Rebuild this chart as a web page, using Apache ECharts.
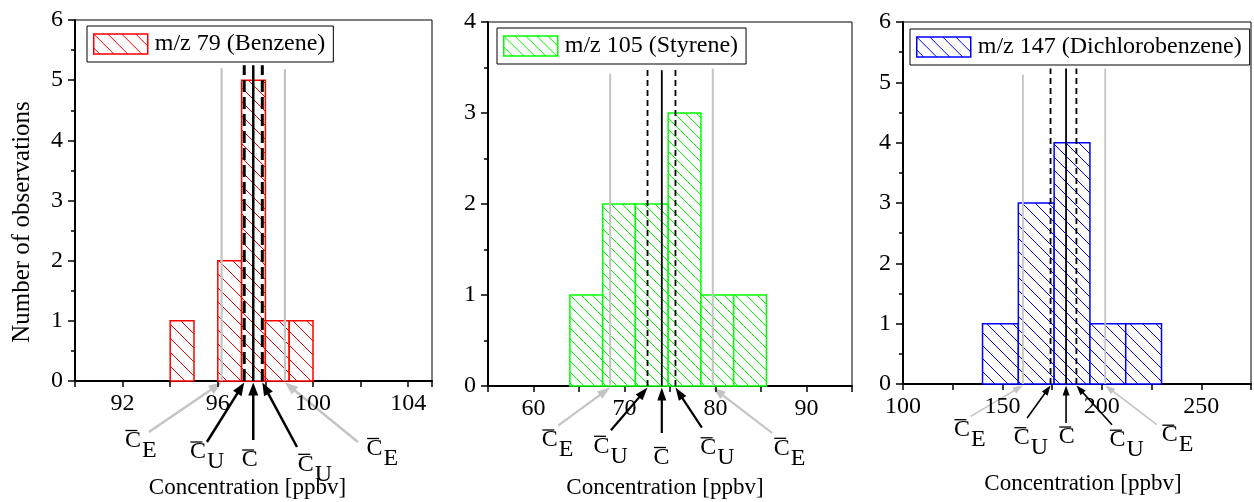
<!DOCTYPE html>
<html>
<head>
<meta charset="utf-8">
<title>Concentration histograms</title>
<script src="https://cdn.jsdelivr.net/npm/echarts@6/dist/echarts.min.js"></script>
<style>
  html, body { margin: 0; padding: 0; background: #fff; }
  #chart { width: 1254px; height: 502px; }
</style>
</head>
<body>
<div id="chart"></div>
<script>
// ---- data ----
// bin edges [ppbv] and counts of observations per bin
const benzeneEdges = [94, 95, 96, 97, 98, 99, 100];
const benzeneCounts = [1, 0, 2, 5, 1, 1];
// reference lines: C_E low, C_U low, mean, C_U high, C_E high
const benzeneMarks = [96.16, 97.11, 97.49, 97.87, 98.82];
const benzeneMarkTops = [5.2, 5.25, 5.25, 5.25, 5.18];
const benzeneTicks = [92, 96, 100, 104];

const styreneEdges = [64, 67.6, 71.2, 74.8, 78.4, 82, 85.6];
const styreneCounts = [1, 2, 2, 3, 1, 1];
const styreneMarks = [68.42, 72.53, 74.1, 75.6, 79.7];
const styreneMarkTops = [3.43, 3.51, 3.47, 3.51, 3.49];
const styreneTicks = [60, 70, 80, 90];

const dcbEdges = [140, 158, 176, 194, 212, 230];
const dcbCounts = [1, 3, 4, 1, 1];
const dcbMarks = [160.3, 174.2, 182, 187.2, 201.7];
const dcbMarkTops = [5.13, 5.23, 5.23, 5.23, 5.23];
const dcbTicks = [100, 150, 200, 250];

const markSubscripts = ['E', 'U', '', 'U', 'E'];
const seriesNames = ['m/z 79 (Benzene)', 'm/z 105 (Styrene)', 'm/z 147 (Dichlorobenzene)'];

// ---- layout and styles ----
const FONT = '"Liberation Serif", "Times New Roman", Times, serif';
const GRAY = '#c4c4c4';

const panels = [
  {
    edges: benzeneEdges, counts: benzeneCounts, marks: benzeneMarks, tops: benzeneMarkTops,
    ticks: benzeneTicks, xMin: 90, xMax: 105, xStep: 2, yMax: 6,
    grid: { left: 75, top: 20, width: 357, height: 361 },
    color: '#ff0000', hatchStep: 14,
    legendPos: { left: 87, top: 26 },
    dashWidth: 3, dash: [12, 5], solidWidth: 2.5, grayWidth: 2.2,
    arrowWidth: 2.5, headLen: 13, headHalf: 5,
    // per mark: arrow tail offset and label (left of C, cap centre) offset, relative to the tip
    callouts: [[-72.7, 51, -96.7, 59.5], [-37.3, 61, -54.3, 71], [0, 59, -11.6, 79],
               [34.7, 66, 35.4, 83.3], [73, 61, 81.7, 67.5]],
    xName: [247.5, 487.5]
  },
  {
    edges: styreneEdges, counts: styreneCounts, marks: styreneMarks, tops: styreneMarkTops,
    ticks: styreneTicks, xMin: 55, xMax: 95, xStep: 5, yMax: 4,
    grid: { left: 488, top: 22, width: 364, height: 364 },
    color: '#00ff00', hatchStep: 11,
    legendPos: { left: 497, top: 28 },
    dashWidth: 1.8, dash: [6, 4], solidWidth: 1.8, grayWidth: 2,
    arrowWidth: 2.2, headLen: 13, headHalf: 4.5,
    callouts: [[-51.7, 39.3, -68.3, 54], [-36.6, 44.3, -54, 60.3], [0, 47, -8.4, 71.5],
               [26.4, 41.6, 24.7, 61.8], [59.4, 47, 61, 62.3]],
    xName: [665, 487.5]
  },
  {
    edges: dcbEdges, counts: dcbCounts, marks: dcbMarks, tops: dcbMarkTops,
    ticks: dcbTicks, xMin: 100, xMax: 275, xStep: 25, yMax: 6,
    grid: { left: 903, top: 22, width: 350, height: 362 },
    color: '#0000ff', hatchStep: 13,
    legendPos: { left: 910, top: 29 },
    dashWidth: 1.8, dash: [6, 4], solidWidth: 1.8, grayWidth: 1.8,
    arrowWidth: 1.6, headLen: 10, headHalf: 3.5,
    callouts: [[-52.3, 32.4, -69, 45.7], [-23.4, 34, -36.7, 53.7], [0, 39, -7.3, 53],
               [35.6, 40.7, 33, 56.2], [51.6, 40.7, 56.6, 51.2]],
    xName: [1083, 484.2]
  }
];

// diagonal hatch tile ("\\\" direction) used as bar fill
function hatchTile(color, step) {
  const c = document.createElement('canvas');
  c.width = step; c.height = step;
  const g = c.getContext('2d');
  g.fillStyle = '#ffffff';
  g.fillRect(0, 0, step, step);
  g.strokeStyle = color;
  g.lineWidth = 1;
  for (const k of [-1, 0, 1]) {
    g.beginPath();
    g.moveTo(k * step - 1, -1);
    g.lineTo(k * step + step + 1, step + 1);
    g.stroke();
  }
  return { image: c, repeat: 'repeat' };
}

const chart = echarts.init(document.getElementById('chart'), null, { renderer: 'canvas' });

const grids = [], xAxes = [], yAxes = [], series = [], legends = [];

panels.forEach((p, i) => {
  const pattern = hatchTile(p.color, p.hatchStep);
  grids.push(Object.assign({ show: true, borderColor: '#000', borderWidth: 1, containLabel: false }, p.grid));

  xAxes.push({
    type: 'value', gridIndex: i, min: p.xMin, max: p.xMax, interval: p.xStep,
    axisLine: { onZero: false, lineStyle: { color: '#000', width: 2 } },
    axisTick: { show: true, length: 6, lineStyle: { color: '#000', width: 1.5 } },
    splitLine: { show: false },
    axisLabel: {
      show: true, margin: 11, color: '#000', fontFamily: FONT, fontSize: 24,
      showMinLabel: true, showMaxLabel: true,
      formatter: v => (p.ticks.indexOf(v) >= 0 ? String(v) : '')
    }
  });

  yAxes.push({
    type: 'value', gridIndex: i, min: 0, max: p.yMax, interval: 1,
    axisLine: { show: true, lineStyle: { color: '#000', width: 2 } },
    axisTick: { show: true, length: 7, lineStyle: { color: '#000', width: 1.5 } },
    minorTick: { show: true, splitNumber: 2, length: 4, lineStyle: { color: '#000', width: 1.5 } },
    splitLine: { show: false },
    axisLabel: { margin: 12, color: '#000', fontFamily: FONT, fontSize: 24 }
  });

  // histogram bars: [lower edge, upper edge, count]
  const bins = p.counts.map((n, k) => [p.edges[k], p.edges[k + 1], n]);
  series.push({
    type: 'custom', name: seriesNames[i], xAxisIndex: i, yAxisIndex: i,
    data: bins, encode: { x: [0, 1], y: 2 }, z: 2,
    itemStyle: { color: pattern, borderColor: p.color, borderWidth: 1.5 },
    renderItem: (params, api) => {
      const n = api.value(2);
      if (!n) return null;
      const a = api.coord([api.value(0), n]);
      const b = api.coord([api.value(1), 0]);
      return {
        type: 'rect',
        shape: { x: a[0], y: a[1], width: b[0] - a[0], height: b[1] - a[1] },
        style: { fill: pattern, stroke: p.color, lineWidth: 1.5 }
      };
    }
  });

  // vertical reference lines
  p.marks.forEach((m, k) => {
    const sub = markSubscripts[k];
    let lineStyle;
    if (sub === 'E') lineStyle = { color: GRAY, width: p.grayWidth, type: 'solid' };
    else if (sub === 'U') lineStyle = { color: '#000', width: p.dashWidth, type: p.dash };
    else lineStyle = { color: '#000', width: p.solidWidth, type: 'solid' };
    series.push({
      type: 'line', xAxisIndex: i, yAxisIndex: i, z: 3,
      data: [[m, 0], [m, p.tops[k]]],
      symbol: 'none', silent: true, animation: false,
      lineStyle: lineStyle
    });
  });

  legends.push({
    left: p.legendPos.left, top: p.legendPos.top, orient: 'vertical',
    selectedMode: false, itemWidth: 54, itemHeight: 20,
    padding: [6, 8, 6, 6], borderColor: '#000', borderWidth: 1, backgroundColor: '#fff',
    textStyle: { fontFamily: FONT, fontSize: 24, color: '#000', lineHeight: 20, padding: [0, 0, 0, 2] },
    data: [{ name: seriesNames[i], icon: 'rect',
             itemStyle: { color: pattern, borderColor: p.color, borderWidth: 1.5 } }]
  });
});

chart.setOption({
  animation: false,
  backgroundColor: '#fff',
  textStyle: { fontFamily: FONT },
  grid: grids, xAxis: xAxes, yAxis: yAxes, legend: legends, series: series
});

// callout arrows and C-bar labels below each axis, anchored to the reference lines
const graphics = [];
function arrow(tail, tip, color, width, len, half) {
  const dx = tip[0] - tail[0], dy = tip[1] - tail[1];
  const d = Math.hypot(dx, dy);
  const ux = dx / d, uy = dy / d, nx = -uy, ny = ux;
  const bx = tip[0] - ux * len, by = tip[1] - uy * len;
  graphics.push({
    type: 'line', silent: true,
    shape: { x1: tail[0], y1: tail[1], x2: bx + ux, y2: by + uy },
    style: { stroke: color, lineWidth: width }
  });
  graphics.push({
    type: 'polygon', silent: true,
    shape: { points: [[tip[0], tip[1]], [bx + nx * half, by + ny * half], [bx - nx * half, by - ny * half]] },
    style: { fill: color }
  });
}
function barLabel(x, y, sub) {
  graphics.push({
    type: 'text', silent: true,
    style: { text: 'C', x: x, y: y, font: '24px ' + FONT, fill: '#000', align: 'left', verticalAlign: 'middle' }
  });
  graphics.push({
    type: 'line', silent: true,
    shape: { x1: x + 0.5, y1: y - 10, x2: x + 12.5, y2: y - 10 },
    style: { stroke: '#000', lineWidth: 1.3 }
  });
  if (sub) {
    graphics.push({
      type: 'text', silent: true,
      style: { text: sub, x: x + 17, y: y + 10, font: '24px ' + FONT, fill: '#000', align: 'left', verticalAlign: 'middle' }
    });
  }
}

panels.forEach((p, i) => {
  p.marks.forEach((m, k) => {
    const base = chart.convertToPixel({ gridIndex: i }, [m, 0]);
    const tip = [base[0], base[1] + 1.5];
    const c = p.callouts[k];
    const color = markSubscripts[k] === 'E' ? GRAY : '#000';
    arrow([base[0] + c[0], base[1] + c[1]], tip, color, p.arrowWidth, p.headLen, p.headHalf);
    barLabel(base[0] + c[2], base[1] + c[3], markSubscripts[k]);
  });
  graphics.push({
    type: 'text', silent: true,
    style: { text: 'Concentration [ppbv]', x: p.xName[0], y: p.xName[1], font: '23px ' + FONT,
             fill: '#000', align: 'center', verticalAlign: 'middle' }
  });
});

graphics.push({
  type: 'text', silent: true, x: 22, y: 222, rotation: Math.PI / 2,
  style: { text: 'Number of observations', x: 0, y: 0, font: '25px ' + FONT,
           fill: '#000', align: 'center', verticalAlign: 'middle' }
});

chart.setOption({ graphic: graphics });
</script>
</body>
</html>
